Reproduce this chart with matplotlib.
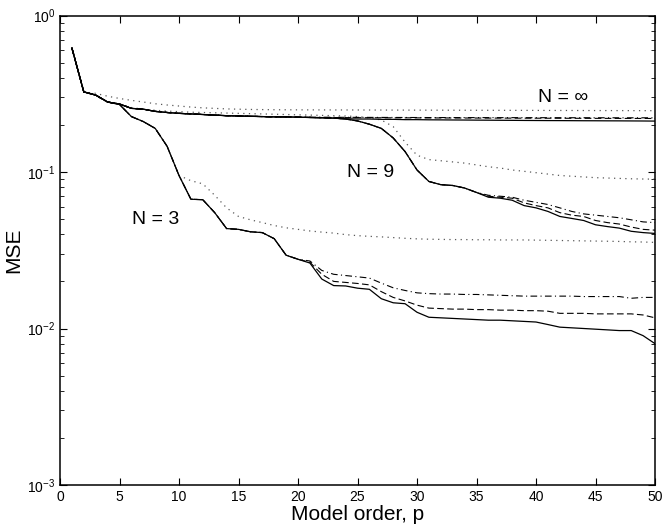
import numpy as np
import matplotlib
matplotlib.use('Agg')
import matplotlib.pyplot as plt

# model order
p = np.arange(1, 51)

# N = infinity
inf_solid = [0.62, 0.325, 0.31, 0.28, 0.272, 0.255, 0.252, 0.244, 0.24, 0.237,
             0.235, 0.233, 0.231, 0.229, 0.228, 0.227, 0.226, 0.225, 0.225, 0.224,
             0.223, 0.222, 0.221, 0.219, 0.218, 0.218, 0.217, 0.217, 0.216, 0.216,
             0.2155, 0.2153, 0.215, 0.2148, 0.2145, 0.2143, 0.214, 0.2138, 0.2135, 0.2133,
             0.2131, 0.213, 0.2128, 0.2126, 0.2125, 0.2123, 0.2122, 0.212, 0.2118, 0.2115]
inf_dash = [0.62, 0.325, 0.31, 0.28, 0.272, 0.255, 0.252, 0.244, 0.24, 0.237,
            0.235, 0.233, 0.231, 0.229, 0.228, 0.227, 0.226, 0.225, 0.225, 0.224,
            0.2235, 0.223, 0.2228, 0.2226, 0.2224, 0.2222, 0.222, 0.2219, 0.2218, 0.2217,
            0.2216, 0.2215, 0.2214, 0.2213, 0.2212, 0.2211, 0.221, 0.2209, 0.2208, 0.2207,
            0.2206, 0.2205, 0.2204, 0.2203, 0.2202, 0.2201, 0.22, 0.22, 0.2199, 0.2198]
inf_dashdot = [0.62, 0.325, 0.31, 0.28, 0.272, 0.255, 0.252, 0.244, 0.24, 0.237,
               0.235, 0.233, 0.231, 0.229, 0.228, 0.227, 0.226, 0.225, 0.225, 0.224,
               0.224, 0.2238, 0.2236, 0.2235, 0.2234, 0.2233, 0.2232, 0.2231, 0.223, 0.2229,
               0.2228, 0.2228, 0.2227, 0.2227, 0.2226, 0.2226, 0.2225, 0.2225, 0.2224, 0.2224,
               0.2223, 0.2223, 0.2222, 0.2222, 0.2221, 0.2221, 0.222, 0.222, 0.222, 0.222]
inf_dot = [0.62, 0.325, 0.318, 0.305, 0.295, 0.287, 0.28, 0.273, 0.268, 0.264,
           0.26, 0.257, 0.255, 0.253, 0.252, 0.251, 0.2505, 0.25, 0.2498, 0.2495,
           0.2494, 0.2493, 0.2492, 0.2491, 0.249, 0.2489, 0.2488, 0.2487, 0.2486, 0.2485,
           0.2484, 0.2483, 0.2482, 0.2481, 0.248, 0.2479, 0.2478, 0.2477, 0.2476, 0.2475,
           0.2474, 0.2473, 0.2472, 0.2471, 0.247, 0.2469, 0.2468, 0.2467, 0.2466, 0.2465]

# N = 9
n9_solid = [0.62, 0.325, 0.31, 0.28, 0.272, 0.255, 0.252, 0.244, 0.24, 0.237,
            0.235, 0.233, 0.231, 0.229, 0.228, 0.227, 0.226, 0.225, 0.225, 0.224,
            0.223, 0.222, 0.221, 0.218, 0.212, 0.202, 0.19, 0.165, 0.135, 0.103,
            0.087, 0.083, 0.082, 0.079, 0.074, 0.069, 0.068, 0.066, 0.061, 0.059,
            0.056, 0.052, 0.0505, 0.049, 0.046, 0.0448, 0.0438, 0.0418, 0.041, 0.0405]
n9_dash = [0.62, 0.325, 0.31, 0.28, 0.272, 0.255, 0.252, 0.244, 0.24, 0.237,
           0.235, 0.233, 0.231, 0.229, 0.228, 0.227, 0.226, 0.225, 0.225, 0.224,
           0.223, 0.222, 0.221, 0.218, 0.212, 0.202, 0.19, 0.165, 0.135, 0.103,
           0.087, 0.083, 0.082, 0.079, 0.074, 0.07, 0.069, 0.068, 0.0635, 0.061,
           0.059, 0.055, 0.053, 0.052, 0.049, 0.0475, 0.0465, 0.0445, 0.043, 0.0425]
n9_dashdot = [0.62, 0.325, 0.31, 0.28, 0.272, 0.255, 0.252, 0.244, 0.24, 0.237,
              0.235, 0.233, 0.231, 0.229, 0.228, 0.227, 0.226, 0.225, 0.225, 0.224,
              0.223, 0.222, 0.221, 0.218, 0.212, 0.202, 0.19, 0.165, 0.135, 0.103,
              0.087, 0.083, 0.082, 0.079, 0.074, 0.071, 0.07, 0.069, 0.066, 0.064,
              0.062, 0.059, 0.056, 0.054, 0.053, 0.052, 0.051, 0.0495, 0.048, 0.0475]
n9_dot = [0.62, 0.325, 0.31, 0.28, 0.272, 0.258, 0.252, 0.248, 0.245, 0.243,
          0.241, 0.24, 0.239, 0.238, 0.237, 0.236, 0.235, 0.234, 0.233, 0.232,
          0.231, 0.23, 0.229, 0.228, 0.226, 0.222, 0.215, 0.195, 0.155, 0.128,
          0.12, 0.118, 0.116, 0.114, 0.111, 0.108, 0.106, 0.103, 0.101, 0.099,
          0.097, 0.095, 0.094, 0.093, 0.092, 0.0915, 0.091, 0.0905, 0.0902, 0.09]

# N = 3
n3_solid = [0.62, 0.325, 0.31, 0.28, 0.27, 0.226, 0.21, 0.19, 0.146, 0.095,
            0.067, 0.0665, 0.055, 0.0435, 0.043, 0.0415, 0.041, 0.0375, 0.0294, 0.0277,
            0.0262, 0.0207, 0.0188, 0.0187, 0.0181, 0.0178, 0.0155, 0.0146, 0.0144, 0.0127,
            0.0118, 0.0117, 0.0116, 0.0115, 0.0114, 0.0113, 0.0113, 0.0112, 0.0111, 0.011,
            0.0106, 0.0102, 0.0101, 0.01, 0.0099, 0.0098, 0.0097, 0.0097, 0.009, 0.008]
n3_dash = [0.62, 0.325, 0.31, 0.28, 0.27, 0.226, 0.21, 0.19, 0.146, 0.095,
           0.067, 0.0665, 0.055, 0.0435, 0.043, 0.0415, 0.041, 0.0375, 0.0294, 0.0277,
           0.0265, 0.0222, 0.02, 0.0197, 0.0194, 0.019, 0.0172, 0.0158, 0.015, 0.0141,
           0.0135, 0.0134, 0.0133, 0.0133, 0.0132, 0.0132, 0.0131, 0.0131, 0.013, 0.013,
           0.0129, 0.0125, 0.0125, 0.0125, 0.0124, 0.0124, 0.0124, 0.0124, 0.0122, 0.0117]
n3_dashdot = [0.62, 0.325, 0.31, 0.28, 0.27, 0.226, 0.21, 0.19, 0.146, 0.095,
              0.067, 0.0665, 0.055, 0.0435, 0.043, 0.0415, 0.041, 0.0375, 0.0294, 0.0277,
              0.027, 0.0235, 0.0222, 0.0218, 0.0214, 0.021, 0.0195, 0.0182, 0.0175, 0.0169,
              0.0167, 0.0166, 0.0166, 0.0165, 0.0165, 0.0164, 0.0163, 0.0162, 0.0161, 0.0161,
              0.0161, 0.0161, 0.0161, 0.016, 0.016, 0.016, 0.016, 0.0156, 0.0158, 0.0158]
n3_dot = [0.62, 0.325, 0.31, 0.28, 0.27, 0.226, 0.21, 0.19, 0.146, 0.095,
          0.088, 0.084, 0.071, 0.059, 0.052, 0.0495, 0.0475, 0.0455, 0.044, 0.043,
          0.042, 0.0413, 0.0407, 0.0398, 0.0392, 0.0388, 0.0385, 0.0381, 0.0377, 0.0374,
          0.0372, 0.0371, 0.037, 0.037, 0.0369, 0.0369, 0.0368, 0.0368, 0.0368, 0.0367,
          0.0366, 0.0365, 0.0364, 0.0363, 0.0362, 0.0361, 0.036, 0.0358, 0.0357, 0.0355]

plt.rcParams['font.family'] = ['Liberation Sans', 'DejaVu Sans']

fig = plt.figure(figsize=(6.64, 5.29), dpi=100)
ax = fig.add_axes([60/664, 1-485/529, 595/664, 469.5/529])

solid = '-'
dash = (0, (6, 3))
dashdot = (0, (6, 3, 1, 3))
dot = (0, (1, 3.5))

for ys in [n3_dot, n9_dot, inf_dot]:
    ax.semilogy(p, ys, color='0.35', ls=dot, lw=0.9)
for ys in [n3_dashdot, n9_dashdot, inf_dashdot]:
    ax.semilogy(p, ys, color='k', ls=dashdot, lw=0.8)
for ys in [n3_dash, n9_dash, inf_dash]:
    ax.semilogy(p, ys, color='k', ls=dash, lw=0.8)
for ys in [n3_solid, n9_solid, inf_solid]:
    ax.semilogy(p, ys, color='k', ls=solid, lw=0.9)

ax.set_xlim(0, 50)
ax.set_ylim(1e-3, 1)
ax.set_xticks(np.arange(0, 51, 5))
ax.tick_params(which='both', direction='in', top=True, right=True, labelsize=10)
ax.tick_params(which='major', length=5)
ax.tick_params(which='minor', length=3)
for s in ax.spines.values():
    s.set_linewidth(1.1)

ax.text(40.2, 0.30, 'N = \u221e', fontsize=14, va='center')
ax.text(24.1, 0.099, 'N = 9', fontsize=14, va='center')
ax.text(6.05, 0.050, 'N = 3', fontsize=14, va='center')

ax.set_xlabel('Model order, p', fontsize=15, labelpad=1)
ax.set_ylabel('MSE', fontsize=15, labelpad=3)

fig.savefig('out.png', dpi=100)
